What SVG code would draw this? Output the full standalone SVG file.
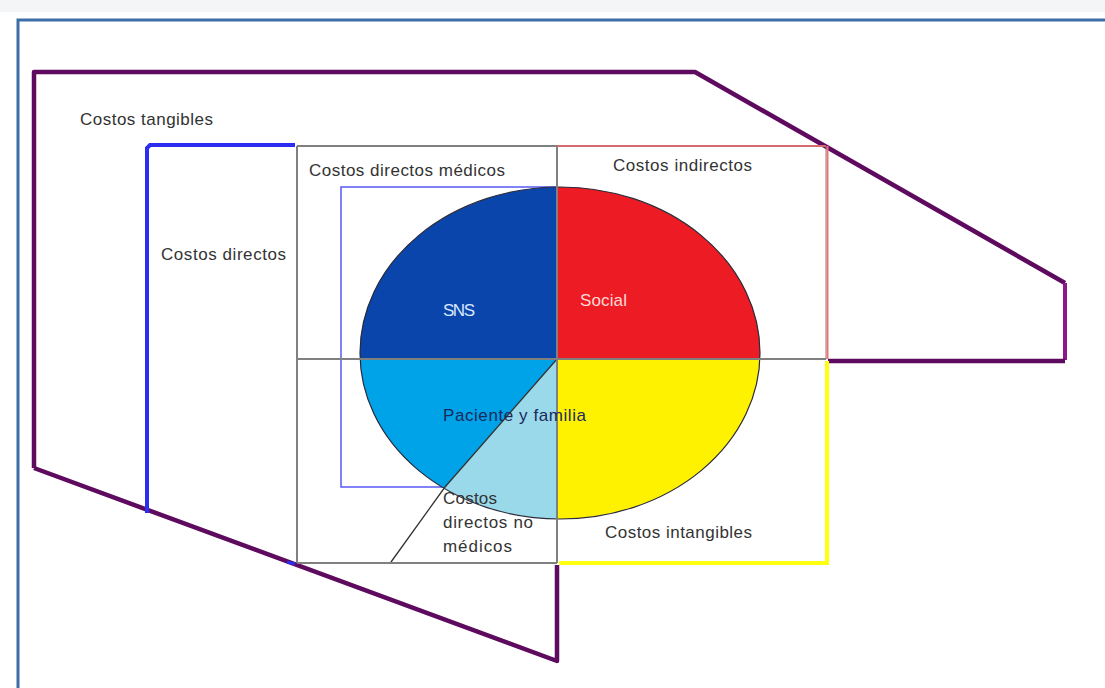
<svg xmlns="http://www.w3.org/2000/svg" width="1105" height="688" viewBox="0 0 1105 688">
<style>
.lbl{font-family:"Liberation Sans",Arial,sans-serif;font-size:17px;fill:#333333}
.grid{stroke:#808080;stroke-width:2;fill:none}
.pur{stroke:#5e0a5e;stroke-width:4.5;fill:none;stroke-linejoin:round}
</style>
<defs>
<clipPath id="cTL"><rect x="300" y="150" width="257" height="209"/></clipPath>
<clipPath id="cTR"><rect x="557" y="150" width="250" height="209"/></clipPath>
<clipPath id="cBR"><rect x="557" y="359" width="250" height="200"/></clipPath>
<clipPath id="cBL1"><polygon points="557,359 340,359 340,600 346,600"/></clipPath>
<clipPath id="cBL2"><polygon points="557,359 346,600 557,600"/></clipPath>
</defs>
<rect x="0" y="0" width="1105" height="688" fill="#ffffff"/>
<rect x="0" y="0" width="1105" height="12" fill="#f4f5f6"/>
<g id="frame"><polyline points="18,690 18,20 1107,20" fill="none" stroke="#3b6ea8" stroke-width="3"/></g>

<g id="tangibles-outline">
<polyline class="pur" points="34,468 34,72 695,72 1065,283"/>
<line x1="1065" y1="283" x2="1065" y2="360" stroke="#8a1a8a" stroke-width="4"/>
<line class="pur" x1="1065" y1="361" x2="828" y2="361"/>
<polyline class="pur" points="557,565 557,661 34,468"/>
</g>

<g id="directos-bracket">
<polyline points="295,145 150,145 147,148 147,513" fill="none" stroke="#2c2cf2" stroke-width="4"/>
<line x1="287" y1="562" x2="295" y2="564" stroke="#2c2cf2" stroke-width="3"/>
</g>

<g id="medicos-rect"><polyline points="557,187 341,187 341,487 445,487" fill="none" stroke="#5a5af5" stroke-width="1.5"/></g>

<g id="pie">
<ellipse cx="560" cy="353" rx="200" ry="166" fill="#0a45ab" clip-path="url(#cTL)"/>
<ellipse cx="560" cy="353" rx="200" ry="166" fill="#ed1c24" clip-path="url(#cTR)"/>
<ellipse cx="560" cy="353" rx="200" ry="166" fill="#fff200" clip-path="url(#cBR)"/>
<ellipse cx="560" cy="353" rx="200" ry="166" fill="#00a2e8" clip-path="url(#cBL1)"/>
<ellipse cx="560" cy="353" rx="200" ry="166" fill="#99d9ea" clip-path="url(#cBL2)"/>
<ellipse cx="560" cy="353" rx="200" ry="166" fill="none" stroke="#2a2a3a" stroke-width="1.2"/>
<polyline points="557,359 445,487 391,562" fill="none" stroke="#333" stroke-width="1.3"/>
</g>

<g id="grid">
<line class="grid" x1="297" y1="146" x2="557" y2="146"/>
<line class="grid" x1="297" y1="146" x2="297" y2="563"/>
<line class="grid" x1="297" y1="563" x2="557" y2="563"/>
<line class="grid" x1="557" y1="146" x2="557" y2="563"/>
<line class="grid" x1="297" y1="359" x2="826" y2="359"/>
</g>

<g id="indirectos-box">
<line x1="557" y1="146" x2="826" y2="146" stroke="#d56a70" stroke-width="2"/>
<line x1="826" y1="146" x2="826" y2="359" stroke="#808080" stroke-width="1"/>
<line x1="827.5" y1="146" x2="827.5" y2="359" stroke="#f07272" stroke-width="2"/>
</g>

<g id="intangibles-box">
<polyline points="827,361 827,563 559,563" fill="none" stroke="#ffff10" stroke-width="4"/>
</g>

<g id="labels">
<text class="lbl" x="80" y="125" textLength="133">Costos tangibles</text>
<text class="lbl" x="161" y="260" textLength="125">Costos directos</text>
<text class="lbl" x="309" y="176" textLength="196">Costos directos médicos</text>
<text class="lbl" x="613" y="171" textLength="139">Costos indirectos</text>
<text class="lbl" x="443" y="316" textLength="32" style="fill:#d8e8ff">SNS</text>
<text class="lbl" x="580" y="306" textLength="47" style="fill:#ffd8d8">Social</text>
<text class="lbl" x="443" y="421" textLength="143" style="fill:#1a2a5c">Paciente y familia</text>
<text class="lbl" x="443" y="504" textLength="54">Costos</text>
<text class="lbl" x="443" y="528" textLength="90">directos no</text>
<text class="lbl" x="443" y="552" textLength="69">médicos</text>
<text class="lbl" x="605" y="538" textLength="147">Costos intangibles</text>
</g>
</svg>
